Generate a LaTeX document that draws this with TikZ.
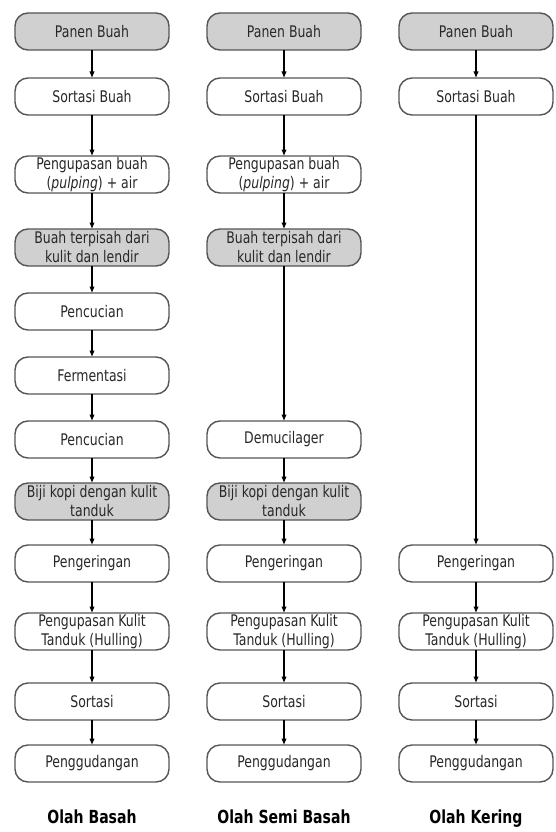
\documentclass[tikz,border=0pt]{standalone}
\usepackage{fontspec}
\newfontfamily\alurfont[FakeStretch=0.78]{DejaVu Sans}
\definecolor{BoxGray}{RGB}{208,208,208}
\definecolor{EdgeGray}{RGB}{85,85,85}
\definecolor{InkGray}{RGB}{40,40,40}
\usepackage{tikz}
\usetikzlibrary{positioning,arrows.meta}

\begin{document}
\begin{tikzpicture}[x=1pt, y=1pt,
      every node/.style={font=\alurfont\fontsize{16}{19}\selectfont, align=center, text=InkGray},
      proses/.style={draw=EdgeGray, line width=1.4pt, fill=white, rounded corners=13pt,
                     minimum width=154pt, minimum height=37pt, inner xsep=1.5pt, inner ysep=0.5pt, outer sep=0pt},
      hasil/.style={proses, fill=BoxGray},
      judul/.style={font=\alurfont\bfseries\fontsize{18}{21}\selectfont, text=black, inner sep=0pt},
      arr/.style={->, >={Latex[length=6.5pt,width=5.5pt]}, line width=1.1pt}
  ]
    \useasboundingbox (0,0) rectangle (555,-832);
    % olah basah
    \node[hasil] (panen1) at (92,-31.5) {Panen Buah};
    \node[proses, below=28pt of panen1] (sortasi1) {Sortasi Buah};
    \node[proses, below=41pt of sortasi1] (kupas1) {Pengupasan buah\\(\textit{pulping}) + air};
    \node[hasil, below=36pt of kupas1] (pisah1) {Buah terpisah dari\\kulit dan lendir};
    \node[proses, below=27pt of pisah1] (cuci1) {Pencucian};
    \node[proses, below=27pt of cuci1] (fermen1) {Fermentasi};
    \node[proses, below=27pt of fermen1] (cucib1) {Pencucian};
    \node[hasil, below=25pt of cucib1] (biji1) {Biji kopi dengan kulit\\tanduk};
    \node[proses, below=25pt of biji1] (kering1) {Pengeringan};
    \node[proses, below=31pt of kering1] (hulling1) {Pengupasan Kulit\\Tanduk (Hulling)};
    \node[proses, below=33pt of hulling1] (sortb1) {Sortasi};
    \node[proses, below=25pt of sortb1] (gudang1) {Penggudangan};
    \node[judul, below=28pt of gudang1] (judul1) {Olah Basah};
    % olah semi basah
    \node[hasil, right=38pt of panen1] (panen2) {Panen Buah};
    \node[proses, right=38pt of sortasi1] (sortasi2) {Sortasi Buah};
    \node[proses, right=38pt of kupas1] (kupas2) {Pengupasan buah\\(\textit{pulping}) + air};
    \node[hasil, right=38pt of pisah1] (pisah2) {Buah terpisah dari\\kulit dan lendir};
    \node[proses, right=38pt of cucib1] (demu2) {Demucilager};
    \node[hasil, right=38pt of biji1] (biji2) {Biji kopi dengan kulit\\tanduk};
    \node[proses, right=38pt of kering1] (kering2) {Pengeringan};
    \node[proses, right=38pt of hulling1] (hulling2) {Pengupasan Kulit\\Tanduk (Hulling)};
    \node[proses, right=38pt of sortb1] (sortb2) {Sortasi};
    \node[proses, right=38pt of gudang1] (gudang2) {Penggudangan};
    \node[judul, below=28pt of gudang2] (judul2) {Olah Semi Basah};
    % olah kering
    \node[hasil, right=38pt of panen2] (panen3) {Panen Buah};
    \node[proses, right=38pt of sortasi2] (sortasi3) {Sortasi Buah};
    \node[proses, right=38pt of kering2] (kering3) {Pengeringan};
    \node[proses, right=38pt of hulling2] (hulling3) {Pengupasan Kulit\\Tanduk (Hulling)};
    \node[proses, right=38pt of sortb2] (sortb3) {Sortasi};
    \node[proses, right=38pt of gudang2] (gudang3) {Penggudangan};
    \node[judul, below=28pt of gudang3] (judul3) {Olah Kering};

    \draw[arr] (panen1) -- (sortasi1);
    \draw[arr] (sortasi1) -- (kupas1);
    \draw[arr] (kupas1) -- (pisah1);
    \draw[arr] (pisah1) -- (cuci1);
    \draw[arr] (cuci1) -- (fermen1);
    \draw[arr] (fermen1) -- (cucib1);
    \draw[arr] (cucib1) -- (biji1);
    \draw[arr] (biji1) -- (kering1);
    \draw[arr] (kering1) -- (hulling1);
    \draw[arr] (hulling1) -- (sortb1);
    \draw[arr] (sortb1) -- (gudang1);

    \draw[arr] (panen2) -- (sortasi2);
    \draw[arr] (sortasi2) -- (kupas2);
    \draw[arr] (kupas2) -- (pisah2);
    \draw[arr] (pisah2) -- (demu2);
    \draw[arr] (demu2) -- (biji2);
    \draw[arr] (biji2) -- (kering2);
    \draw[arr] (kering2) -- (hulling2);
    \draw[arr] (hulling2) -- (sortb2);
    \draw[arr] (sortb2) -- (gudang2);

    \draw[arr] (panen3) -- (sortasi3);
    \draw[arr] (sortasi3) -- (kering3);
    \draw[arr] (kering3) -- (hulling3);
    \draw[arr] (hulling3) -- (sortb3);
    \draw[arr] (sortb3) -- (gudang3);
  \end{tikzpicture}
\end{document}
